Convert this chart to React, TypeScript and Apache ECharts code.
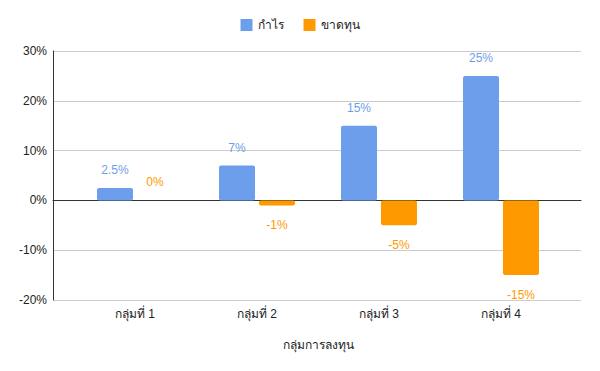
import React, { useEffect, useRef } from "react";
import * as echarts from "echarts";

const categories = ["กลุ่มที่ 1", "กลุ่มที่ 2", "กลุ่มที่ 3", "กลุ่มที่ 4"];
const profit = [2.5, 7, 15, 25];
const loss = [0, -1, -5, -15];
const seriesNames = ["กำไร", "ขาดทุน"];
const xAxisName = "กลุ่มการลงทุน";
const yMin = -20;
const yMax = 30;
const yInterval = 10;

const BLUE = "#6d9eeb";
const ORANGE = "#ff9900";
const FONT = "Arial, 'Liberation Sans', sans-serif";

function toItems(values: number[], color: string) {
  return values.map((v) => ({
    value: v,
    label: {
      show: true,
      position: v < 0 ? "bottom" : "top",
      distance: v < 0 ? 14 : 12,
      formatter: v + "%",
      color,
      fontSize: 12,
      fontFamily: FONT,
    },
  }));
}

export default function App() {
  const ref = useRef<HTMLDivElement>(null);
  useEffect(() => {
    if (!ref.current) return;
    const chart = echarts.init(ref.current, null, { renderer: "svg" });
    chart.setOption({
      animation: false,
      textStyle: { fontFamily: FONT },
      legend: {
        top: 6,
        left: "center",
        itemWidth: 12,
        itemHeight: 12,
        itemGap: 20,
        icon: "rect",
        textStyle: { fontSize: 12, color: "#222", fontFamily: FONT },
        data: seriesNames,
      },
      grid: [
        { left: 45, right: 11, top: 43, bottom: 63 },
        { left: 66, right: 30, top: 43, bottom: 63 },
      ],
      xAxis: [
        {
          type: "category",
          gridIndex: 0,
          data: categories,
          axisLine: { show: true, onZero: true, lineStyle: { color: "#333", width: 1 } },
          axisTick: { show: false },
          axisLabel: { show: false },
          splitLine: { show: false },
        },
        {
          type: "category",
          gridIndex: 1,
          data: categories,
          axisLine: { show: false, onZero: false },
          axisTick: { show: false },
          axisLabel: { color: "#222", fontSize: 12, margin: 8, fontFamily: FONT },
          name: xAxisName,
          nameLocation: "middle",
          nameGap: 39,
          nameTextStyle: { color: "#222", fontSize: 12, fontFamily: FONT },
        },
      ],
      yAxis: [
        {
          type: "value",
          gridIndex: 0,
          min: yMin,
          max: yMax,
          interval: yInterval,
          axisLine: { show: true, lineStyle: { color: "#333", width: 1 } },
          axisTick: { show: false },
          axisLabel: {
            formatter: "{value}%",
            color: "#222",
            fontSize: 12,
            margin: 6,
            fontFamily: FONT,
          },
          splitLine: { show: true, lineStyle: { color: "#cccccc", width: 1 } },
        },
        {
          type: "value",
          gridIndex: 1,
          min: yMin,
          max: yMax,
          interval: yInterval,
          show: false,
          splitLine: { show: false },
        },
      ],
      series: [
        {
          name: seriesNames[0],
          type: "bar",
          xAxisIndex: 1,
          yAxisIndex: 1,
          barWidth: 36,
          barGap: "11%",
          itemStyle: { color: BLUE, borderRadius: 2 },
          data: toItems(profit, BLUE),
        },
        {
          name: seriesNames[1],
          type: "bar",
          xAxisIndex: 1,
          yAxisIndex: 1,
          barWidth: 36,
          barGap: "11%",
          itemStyle: { color: ORANGE, borderRadius: 2 },
          data: toItems(loss, ORANGE),
        },
      ],
    });
    return () => chart.dispose();
  }, []);
  return <div ref={ref} style={{ width: 584, height: 355 }} />;
}
